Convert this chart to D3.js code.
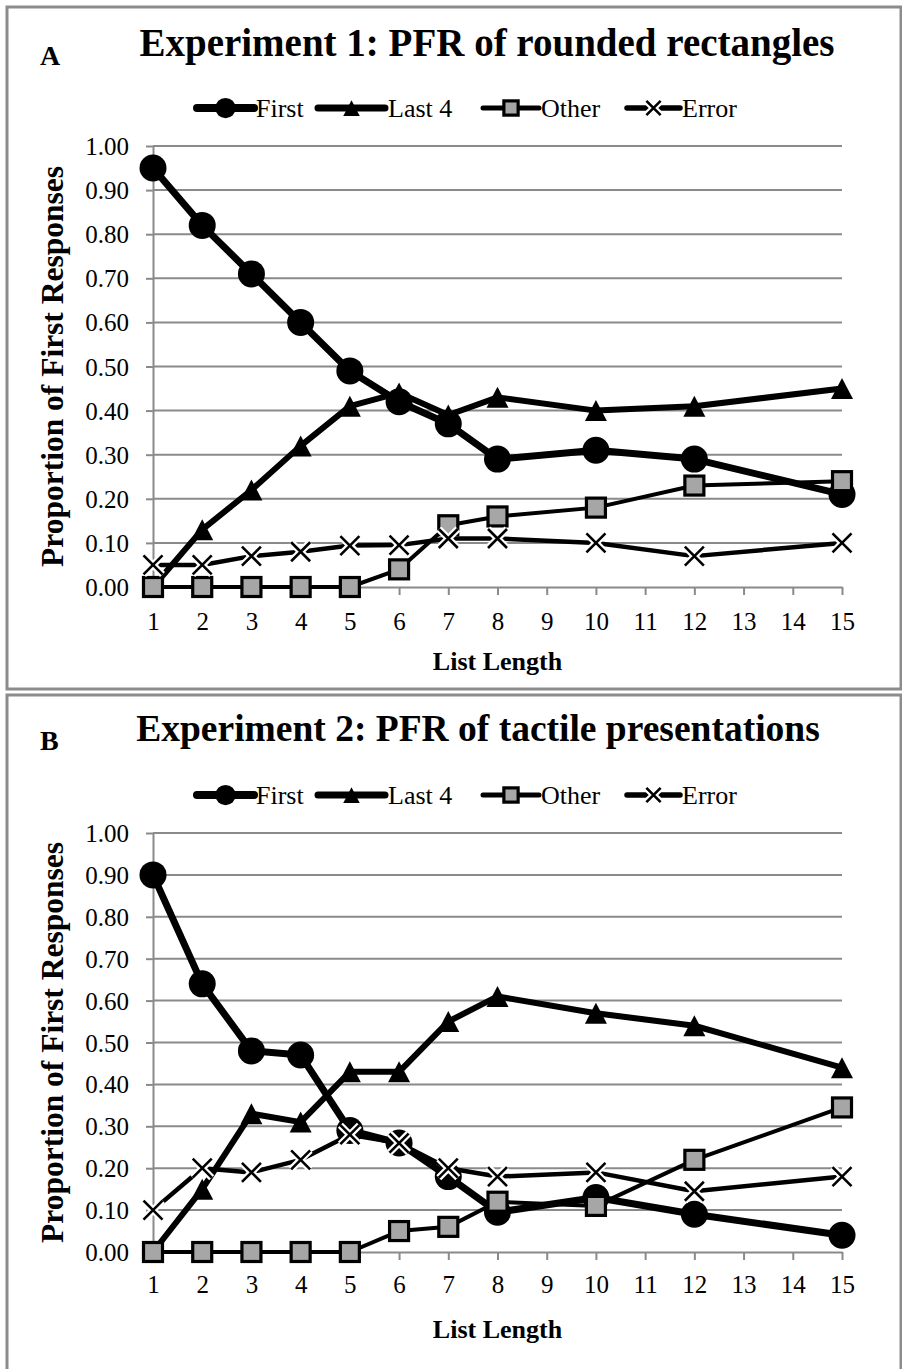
<!DOCTYPE html>
<html>
<head>
<meta charset="utf-8">
<script src="https://cdn.jsdelivr.net/npm/d3@7"></script>
<style>
  html, body { margin: 0; padding: 0; background: #fff; }
  svg { display: block; }
  text { font-family: "Liberation Serif", "Times New Roman", serif; fill: #000; }
</style>
</head>
<body>
<svg id="chart" width="902" height="1369"></svg>
<script>
// ---------------- DATA ----------------
const listLengths = [1, 2, 3, 4, 5, 6, 7, 8, 10, 12, 15];
const xTickValues = [1, 2, 3, 4, 5, 6, 7, 8, 9, 10, 11, 12, 13, 14, 15];
const yTickValues = [0, 0.1, 0.2, 0.3, 0.4, 0.5, 0.6, 0.7, 0.8, 0.9, 1.0];
const seriesNames = ["First", "Last 4", "Other", "Error"];

const exp1First = [0.95, 0.82, 0.71, 0.60, 0.49, 0.42, 0.37, 0.29, 0.31, 0.29, 0.21];
const exp1Last4 = [0.00, 0.13, 0.22, 0.32, 0.41, 0.44, 0.39, 0.43, 0.40, 0.41, 0.45];
const exp1Other = [0.00, 0.00, 0.00, 0.00, 0.00, 0.04, 0.14, 0.16, 0.18, 0.23, 0.24];
const exp1Error = [0.05, 0.05, 0.07, 0.08, 0.094, 0.095, 0.11, 0.11, 0.10, 0.07, 0.10];

const exp2First = [0.90, 0.64, 0.48, 0.47, 0.29, 0.26, 0.18, 0.095, 0.13, 0.09, 0.04];
const exp2Last4 = [0.00, 0.15, 0.33, 0.31, 0.43, 0.43, 0.55, 0.61, 0.57, 0.54, 0.44];
const exp2Other = [0.00, 0.00, 0.00, 0.00, 0.00, 0.05, 0.06, 0.12, 0.11, 0.22, 0.345];
const exp2Error = [0.10, 0.20, 0.19, 0.22, 0.28, 0.26, 0.20, 0.18, 0.19, 0.145, 0.18];

const panelLetters = ["A", "B"];
const panelTitles = ["Experiment 1: PFR of rounded rectangles", "Experiment 2: PFR of tactile presentations"];
const xAxisTitle = "List Length";
const yAxisTitle = "Proportion of First Responses";

// ---------------- LAYOUT / STYLE ----------------
const GRID = "#8a8a8a";
const BORDER = "#8c8c8c";
const OTHER_FILL = "#a6a6a6";

const panels = [
  { letter: panelLetters[0], title: panelTitles[0],
    data: [exp1First, exp1Last4, exp1Other, exp1Error],
    box: [7, 7, 901, 689], titleY: 56, titleX: 487, titleSize: 39, letterY: 65, legendY: 108,
    plot: { left: 153, right: 842, top: 146, bottom: 587 },
    xLabelY: 630, xTitleY: 670, yTitleX: 63 },
  { letter: panelLetters[1], title: panelTitles[1],
    data: [exp2First, exp2Last4, exp2Other, exp2Error],
    box: [7, 695, 901, 1375], titleY: 741, titleX: 478, titleSize: 37.5, letterY: 750, legendY: 795,
    plot: { left: 153, right: 842, top: 833, bottom: 1252 },
    xLabelY: 1293, xTitleY: 1338, yTitleX: 63 }
];

const styles = [
  { width: 7, marker: "circle" },
  { width: 6, marker: "triangle" },
  { width: 4, marker: "square" },
  { width: 4.5, marker: "x" }
];

const svg = d3.select("#chart");

function drawMarker(g, type, cx, cy, scale) {
  const s = scale || 1;
  if (type === "circle") {
    g.append("circle").attr("cx", cx).attr("cy", cy).attr("r", 13.5 * s).attr("fill", "#000");
  } else if (type === "triangle") {
    const w = 22 * s, h = 21 * s;
    g.append("path")
      .attr("d", `M${cx},${cy - h / 2}L${cx + w / 2},${cy + h / 2}L${cx - w / 2},${cy + h / 2}Z`)
      .attr("fill", "#000");
  } else if (type === "square") {
    const a = 19 * s;
    g.append("rect").attr("x", cx - a / 2).attr("y", cy - a / 2).attr("width", a).attr("height", a)
      .attr("fill", OTHER_FILL).attr("stroke", "#000").attr("stroke-width", 3.2);
  } else if (type === "x") {
    const a = 9.5 * s;
    const d = `M${cx - a},${cy - a}L${cx + a},${cy + a}M${cx - a},${cy + a}L${cx + a},${cy - a}`;
    g.append("path").attr("d", d).attr("stroke", "#fff").attr("stroke-width", 7).attr("fill", "none");
    g.append("path").attr("d", d).attr("stroke", "#000").attr("stroke-width", 2.6).attr("fill", "none");
  }
}

panels.forEach(p => {
  const g = svg.append("g");
  const [bx0, by0, bx1, by1] = p.box;
  g.append("rect").attr("x", bx0).attr("y", by0).attr("width", bx1 - bx0).attr("height", by1 - by0)
    .attr("fill", "none").attr("stroke", BORDER).attr("stroke-width", 3);

  // letter & title
  g.append("text").attr("x", 40).attr("y", p.letterY).attr("font-size", 28).attr("font-weight", "bold").text(p.letter);
  g.append("text").attr("x", p.titleX).attr("y", p.titleY).attr("text-anchor", "middle")
    .attr("font-size", p.titleSize).attr("font-weight", "bold").text(p.title);

  const x = d3.scaleLinear().domain([1, 15]).range([p.plot.left, p.plot.right]);
  const y = d3.scaleLinear().domain([0, 1]).range([p.plot.bottom, p.plot.top]);

  // gridlines
  g.append("g").selectAll("line").data(yTickValues.slice(1)).join("line")
    .attr("x1", p.plot.left).attr("x2", p.plot.right)
    .attr("y1", d => y(d)).attr("y2", d => y(d))
    .attr("stroke", GRID).attr("stroke-width", 2);

  // y axis
  const yAxis = d3.axisLeft(y).tickValues(yTickValues).tickSize(7).tickSizeOuter(0)
    .tickFormat(d3.format(".2f"));
  const yg = g.append("g").attr("transform", `translate(${p.plot.left},0)`).call(yAxis);
  yg.select(".domain").attr("stroke", GRID).attr("stroke-width", 2);
  yg.selectAll(".tick line").attr("stroke", GRID).attr("stroke-width", 2);
  yg.selectAll(".tick text").attr("font-size", 25).attr("font-family", "Liberation Serif, Times New Roman, serif")
    .attr("fill", "#000").attr("dy", "0.34em").attr("x", -24);

  // x axis
  const xAxis = d3.axisBottom(x).tickValues(xTickValues).tickSize(8).tickSizeOuter(0).tickFormat(d3.format("d"));
  const xg = g.append("g").attr("transform", `translate(0,${p.plot.bottom})`).call(xAxis);
  xg.select(".domain").attr("stroke", GRID).attr("stroke-width", 2);
  xg.selectAll(".tick line").attr("stroke", GRID).attr("stroke-width", 2);
  xg.selectAll(".tick text").attr("font-size", 25).attr("font-family", "Liberation Serif, Times New Roman, serif")
    .attr("fill", "#000").attr("dy", null).attr("y", p.xLabelY - p.plot.bottom);

  // axis titles
  g.append("text").attr("x", (p.plot.left + p.plot.right) / 2).attr("y", p.xTitleY)
    .attr("text-anchor", "middle").attr("font-size", 26).attr("font-weight", "bold").text(xAxisTitle);
  g.append("text").attr("transform", `translate(${p.yTitleX},${(p.plot.top + p.plot.bottom) / 2}) rotate(-90)`)
    .attr("text-anchor", "middle").attr("font-size", 31.5).attr("font-weight", "bold").text(yAxisTitle);

  // series
  const line = d3.line().x((d, i) => x(listLengths[i])).y(d => y(d));
  p.data.forEach((vals, si) => {
    const sg = g.append("g");
    sg.append("path").datum(vals).attr("d", line).attr("fill", "none").attr("stroke", "#000")
      .attr("stroke-width", styles[si].width).attr("stroke-linejoin", "round");
    vals.forEach((v, i) => drawMarker(sg, styles[si].marker, x(listLengths[i]), y(v), 1));
  });

  // legend
  const legendItems = [
    { x0: 197, x1: 254, tx: 256 },
    { x0: 318, x1: 385, tx: 388 },
    { x0: 483, x1: 539, tx: 541 },
    { x0: 627, x1: 680, tx: 682 }
  ];
  const lg = g.append("g");
  legendItems.forEach((it, si) => {
    const ig = lg.append("g");
    ig.append("line").attr("x1", it.x0).attr("x2", it.x1).attr("y1", p.legendY).attr("y2", p.legendY)
      .attr("stroke", "#000").attr("stroke-width", styles[si].width + 1).attr("stroke-linecap", "round");
    drawMarker(ig, styles[si].marker, (it.x0 + it.x1) / 2, p.legendY, 0.75);
    ig.append("text").attr("x", it.tx).attr("y", p.legendY + 9).attr("font-size", 26).text(seriesNames[si]);
  });
});
</script>
</body>
</html>
